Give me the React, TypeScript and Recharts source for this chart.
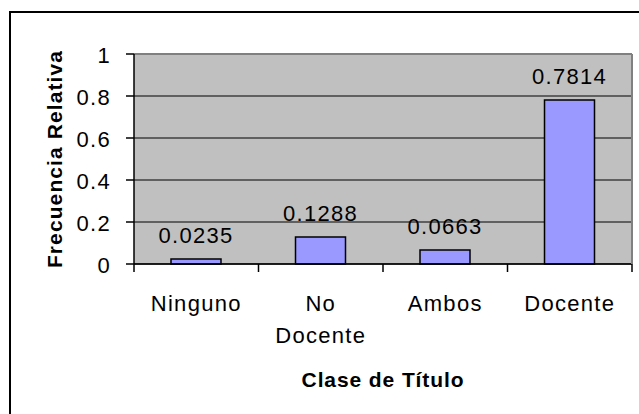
import { Bar, BarChart, CartesianGrid, LabelList, ReferenceLine, XAxis, YAxis } from 'recharts'

const categories = ['Ninguno', 'No Docente', 'Ambos', 'Docente']
const frecuencias = [0.0235, 0.1288, 0.0663, 0.7814]
const yTicks = [0, 0.2, 0.4, 0.6, 0.8, 1]

const xTitle = 'Clase de Título'
const yTitle = 'Frecuencia Relativa'

const data = categories.map((name, i) => ({ name, value: frecuencias[i] }))

const W = 639
const H = 414
const Y_AXIS_W = 134
const RIGHT_W = 7
const X_AXIS_H = 150
const PLOT_W = W - Y_AXIS_W - RIGHT_W
const FONT = "'Liberation Sans', Arial, sans-serif"
const labelStyle = { fontSize: 22, fontFamily: FONT, letterSpacing: 1.3 }

// category labels wrap at spaces, like the narrow Excel label boxes
function CategoryTick(props: any) {
  const { x, y, payload, index } = props
  const band = PLOT_W / categories.length
  const left = x - band / 2
  const lines = String(payload.value).split(' ')
  return (
    <g>
      <line x1={left} x2={left} y1={y} y2={y + 8} stroke='#000' strokeWidth={1.5} />
      {index === categories.length - 1 && (
        <line x1={left + band} x2={left + band} y1={y} y2={y + 8} stroke='#000' strokeWidth={1.5} />
      )}
      <text x={x} y={y + 47} textAnchor='middle' fill='#000' style={labelStyle}>
        {lines.map((line, i) => (
          <tspan key={i} x={x} dy={i === 0 ? 0 : 32}>
            {line}
          </tspan>
        ))}
      </text>
    </g>
  )
}

function ValueTick(props: any) {
  const { x, y, payload } = props
  return (
    <text x={x - 15} y={y + 9} textAnchor='end' fill='#000' style={labelStyle}>
      {String(payload.value)}
    </text>
  )
}

function BarValue(props: any) {
  const { x, y, width, value } = props
  return (
    <text x={x + width / 2} y={y - 16} textAnchor='middle' fill='#000' style={labelStyle}>
      {value}
    </text>
  )
}

function XTitle(props: any) {
  const { x, y, width } = props.viewBox
  return (
    <text x={x + width / 2} y={y + 123} textAnchor='middle' fontSize={21} fontWeight='bold' fontFamily={FONT} fill='#000' letterSpacing={0.9}>
      {xTitle}
    </text>
  )
}

function YTitle(props: any) {
  const { y, height } = props.viewBox
  const cx = 54
  const cy = y + height / 2
  return (
    <text
      x={cx}
      y={cy}
      transform={`rotate(-90 ${cx} ${cy})`}
      textAnchor='middle'
      dominantBaseline='central'
      fontSize={21}
      fontWeight='bold'
      fontFamily={FONT}
      fill='#000'
      letterSpacing={1.1}
    >
      {yTitle}
    </text>
  )
}

function App() {
  return (
    <div style={{ position: 'absolute', left: 0, top: 0, width: W, height: H, overflow: 'hidden', background: '#fff' }}>
      <div
        style={{
          position: 'absolute',
          left: 9,
          top: 11,
          width: 700,
          height: 500,
          border: '2px solid #000',
        }}
      />
      <div style={{ position: 'absolute', left: 0, top: 0 }}>
        <BarChart width={W} height={H} data={data} margin={{ top: 54, right: 0, left: 0, bottom: 0 }}>
          <CartesianGrid yAxisId='left' vertical={false} fill='#c0c0c0' fillOpacity={1} stroke='#000' strokeWidth={1} />
          <XAxis
            dataKey='name'
            height={X_AXIS_H}
            interval={0}
            tickSize={0}
            tickMargin={0}
            tickLine={false}
            axisLine={{ stroke: '#000', strokeWidth: 1.5 }}
            tick={<CategoryTick />}
            label={<XTitle />}
          />
          <YAxis
            yAxisId='left'
            width={Y_AXIS_W}
            domain={[0, 1]}
            ticks={yTicks}
            interval={0}
            tickSize={8}
            tickMargin={0}
            tickLine={{ stroke: '#000', strokeWidth: 1.5 }}
            axisLine={{ stroke: '#000', strokeWidth: 1.5 }}
            tick={<ValueTick />}
            label={<YTitle />}
          />
          <YAxis
            yAxisId='right'
            orientation='right'
            width={RIGHT_W}
            domain={[0, 1]}
            tick={false}
            tickLine={false}
            axisLine={{ stroke: '#808080', strokeWidth: 2 }}
          />
          <ReferenceLine yAxisId='left' y={1} stroke='#808080' strokeWidth={2} />
          <Bar yAxisId='left' dataKey='value' fill='#9999ff' stroke='#000' strokeWidth={1.5} barSize={50} isAnimationActive={false}>
            <LabelList dataKey='value' content={<BarValue />} />
          </Bar>
        </BarChart>
      </div>
    </div>
  )
}

export default App
